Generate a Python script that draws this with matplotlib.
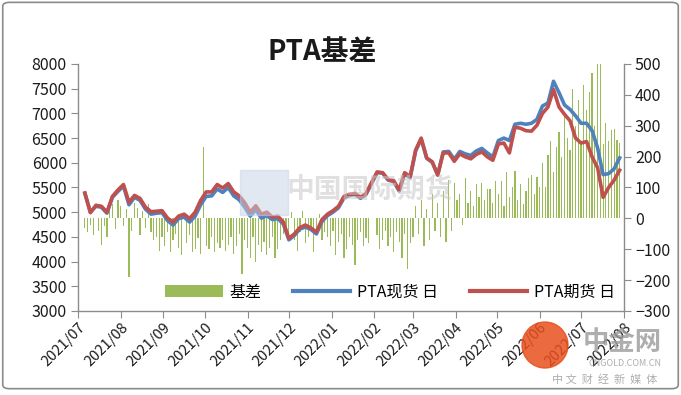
import pandas as pd
import matplotlib.pyplot as plt
import matplotlib.dates as mdates
import matplotlib.ticker as ticker
from matplotlib.patches import FancyBboxPatch, Patch, Ellipse
from matplotlib.lines import Line2D

plt.rcParams['font.family'] = ['Noto Sans CJK SC', 'DejaVu Sans']

# PTA spot / futures prices (left axis), one point every 4 days
line_dates = pd.date_range('2021-07-06', periods=98, freq='4D')
spot = [5380, 5000, 5120, 5100, 4980, 5300, 5420, 5530, 5150, 5300,
        5240, 5060, 4960, 4980, 4990, 4830, 4740, 4870, 4900, 4800,
        4920, 5150, 5320, 5330, 5470, 5400, 5500, 5330, 5250, 5100,
        4920, 5050, 4880, 4930, 4850, 4870, 4760, 4440, 4530, 4660,
        4700, 4650, 4560, 4810, 4930, 5000, 5090, 5290, 5340, 5360,
        5280, 5360, 5580, 5800, 5790, 5650, 5620, 5430, 5780, 5700,
        6240, 6480, 6090, 6010, 5760, 6220, 6230, 6070, 6230, 6180,
        6150, 6240, 6290, 6200, 6120, 6450, 6500, 6450, 6780, 6800,
        6780, 6800, 6880, 7150, 7210, 7650, 7420, 7170, 7080, 6950,
        6800, 6800, 6650, 6300, 5760, 5780, 5880, 6100]
futures = [5390, 4990, 5140, 5120, 5000, 5320, 5450, 5560, 5200, 5340,
           5280, 5100, 5010, 5020, 5030, 4880, 4800, 4920, 4960, 4870,
           5000, 5240, 5410, 5410, 5560, 5490, 5580, 5410, 5330, 5190,
           5000, 5130, 4960, 5000, 4900, 4920, 4800, 4470, 4560, 4690,
           4740, 4680, 4600, 4850, 4960, 5030, 5120, 5320, 5360, 5380,
           5300, 5380, 5600, 5815, 5800, 5660, 5640, 5450, 5800, 5720,
           6260, 6500, 6100, 6020, 5750, 6200, 6200, 6030, 6180, 6120,
           6080, 6170, 6220, 6120, 6050, 6380, 6400, 6200, 6720, 6700,
           6650, 6640, 6760, 7000, 7130, 7480, 7130, 6980, 6850, 6500,
           6400, 6430, 6120, 5900, 5300, 5500, 5650, 5850]

# basis (right axis), one bar every 2 days
bar_dates = pd.date_range('2021-07-06', periods=195, freq='2D')
basis = [-30, -45, -20, -55, 0, -40, -85, -25, -60, 30, 45, -35, 60,
         40, -25, 30, -190, -40, 50, 35, -55, 25, -30, 45, -45, -70, -60, -105,
         -60, -90, -45, -110, -70, -50, -95, -120, 0, -80, -55, -110, -100, -65, -115,
         230,
         -90, -100, -60, -110, -80, -95, -70, -105, -85, -60, -115, -90, -50, -180,
         -70, -95, -130, -60, -140, -85, -110, -75, -120, -95, -60, -130, -100, -70, -50,
         -40, -60, 20, -70, -105, -45, 25, -80, -60, -30, -110, -55, 15, -70, -45,
         -60, -90, -40, -120, -75, -50, -130, -100, -60, -85, -150, -70, -45, -90, -65,
         -80, 0, 0, -55, -100, -70, -40, -90, -60, -110, -45, -75, -130, -50,
         -165, -80, -60, 40, -50, 60, -90, 30, -70, 80, -40, 50, -60, 90, -75,
         125, -40, 115, 60, 80, -20, 130, 50, 90, 40, 110, 70, 115, 60, 95,
         95, 50, 120, 80, 120, 40, 150, 70, 100, 155, 60, 110, 45, 90, 130,
         140, 80, 135, 100, 180, 100, 205, 250, 150, 230, 280, 200, 330, 260, 220,
         420, 300, 383, 250, 432, 350, 410, 470, 300, 520, 520, 240, 310, 250, 285, 290, 255, 245]

month_ticks = pd.date_range('2021-07-01', '2022-08-01', freq='MS')

GREEN = '#9bbb59'
BLUE = '#4f81bd'
RED = '#c0504d'
AXC = '#8c8c8c'

fig = plt.figure(figsize=(6.81, 3.95), dpi=100)

# chart border
fig.patches.append(FancyBboxPatch((0.004, 0.016), 0.992, 0.978,
                                  boxstyle='round,pad=0,rounding_size=0.01',
                                  transform=fig.transFigure, fill=False,
                                  edgecolor='#8a8a8a', linewidth=1.2))

ax = fig.add_axes([0.1145, 0.2127, 0.8015, 0.6253])
ax2 = ax.twinx()

ax2.bar(bar_dates, basis, width=0.9, color=GREEN, linewidth=0)
ax.plot(line_dates, spot, color=BLUE, lw=2.6, solid_joinstyle='round')
ax.plot(line_dates, futures, color=RED, lw=2.6, solid_joinstyle='round')

# lines above the bars
ax.set_zorder(ax2.get_zorder() + 1)
ax.patch.set_visible(False)

ax.set_xlim(month_ticks[0], month_ticks[-1])
ax.set_ylim(3000, 8000)
ax2.set_ylim(-300, 500)
ax.yaxis.set_major_locator(ticker.MultipleLocator(500))
ax2.yaxis.set_major_locator(ticker.MultipleLocator(100))
ax.set_xticks(month_ticks)
ax.xaxis.set_major_formatter(mdates.DateFormatter('%Y/%m'))
for lab in ax.get_xticklabels():
    lab.set_rotation(45)
    lab.set_ha('right')
    lab.set_rotation_mode('anchor')

for a in (ax, ax2):
    for s in a.spines.values():
        s.set_visible(False)
ax.spines['left'].set_visible(True)
ax.spines['bottom'].set_visible(True)
ax2.spines['right'].set_visible(True)
for s in (ax.spines['left'], ax.spines['bottom'], ax2.spines['right']):
    s.set_color(AXC)
    s.set_linewidth(1.0)

ax.tick_params(axis='y', labelsize=11.5, colors=AXC, labelcolor='#1a1a1a', length=5, pad=3)
ax.tick_params(axis='x', labelsize=10.5, colors=AXC, labelcolor='#1a1a1a', length=5, pad=2)
ax2.tick_params(axis='y', labelsize=11.5, colors=AXC, labelcolor='#1a1a1a', length=5, pad=3)

# title
fig.text(322 / 681, 1 - 52 / 395, 'PTA基差', ha='center', va='center',
         fontsize=20, fontweight='bold', color='#1a1a1a')

# legend
handles = [Patch(facecolor=GREEN, edgecolor='none'),
           Line2D([], [], color=BLUE, lw=3),
           Line2D([], [], color=RED, lw=3)]
labels = ['基差', 'PTA现货 日', 'PTA期货 日']
fig.legend(handles, labels, loc='center', bbox_to_anchor=(390 / 681, 1 - 292 / 395),
           ncol=3, frameon=False, fontsize=11.5, handlelength=3.6,
           handleheight=0.8, columnspacing=2.0, handletextpad=0.4)

# watermarks
fig.text(370 / 681, 1 - 190 / 395, '中国国际期货', ha='center', va='center',
         fontsize=20, fontweight='bold', color='#c8c8c8', alpha=0.55, zorder=5)
fig.patches.append(plt.Rectangle((240 / 681, 1 - 215 / 395), 48 / 681, 45 / 395,
                                 transform=fig.transFigure, color='#c5d3e6',
                                 alpha=0.5, zorder=4))
fig.patches.append(Ellipse((545 / 681, 1 - 345 / 395), 46 / 681, 46 / 395,
                           transform=fig.transFigure, color='#e8501e',
                           alpha=0.85, zorder=6))
fig.text(622 / 681, 1 - 343 / 395, '中金网', ha='center', va='center',
         fontsize=19, fontweight='bold', color='#9a9a9a', alpha=0.8, zorder=6)
fig.text(625 / 681, 1 - 364 / 395, 'CNGOLD.COM.CN', ha='center', va='center',
         fontsize=6.5, color='#9a9a9a', alpha=0.8, zorder=6)
fig.text(605 / 681, 1 - 379 / 395, '中 文  财  经  新  媒  体', ha='center', va='center',
         fontsize=8, color='#9a9a9a', alpha=0.8, zorder=6)

fig.savefig('out.png', dpi=100)
